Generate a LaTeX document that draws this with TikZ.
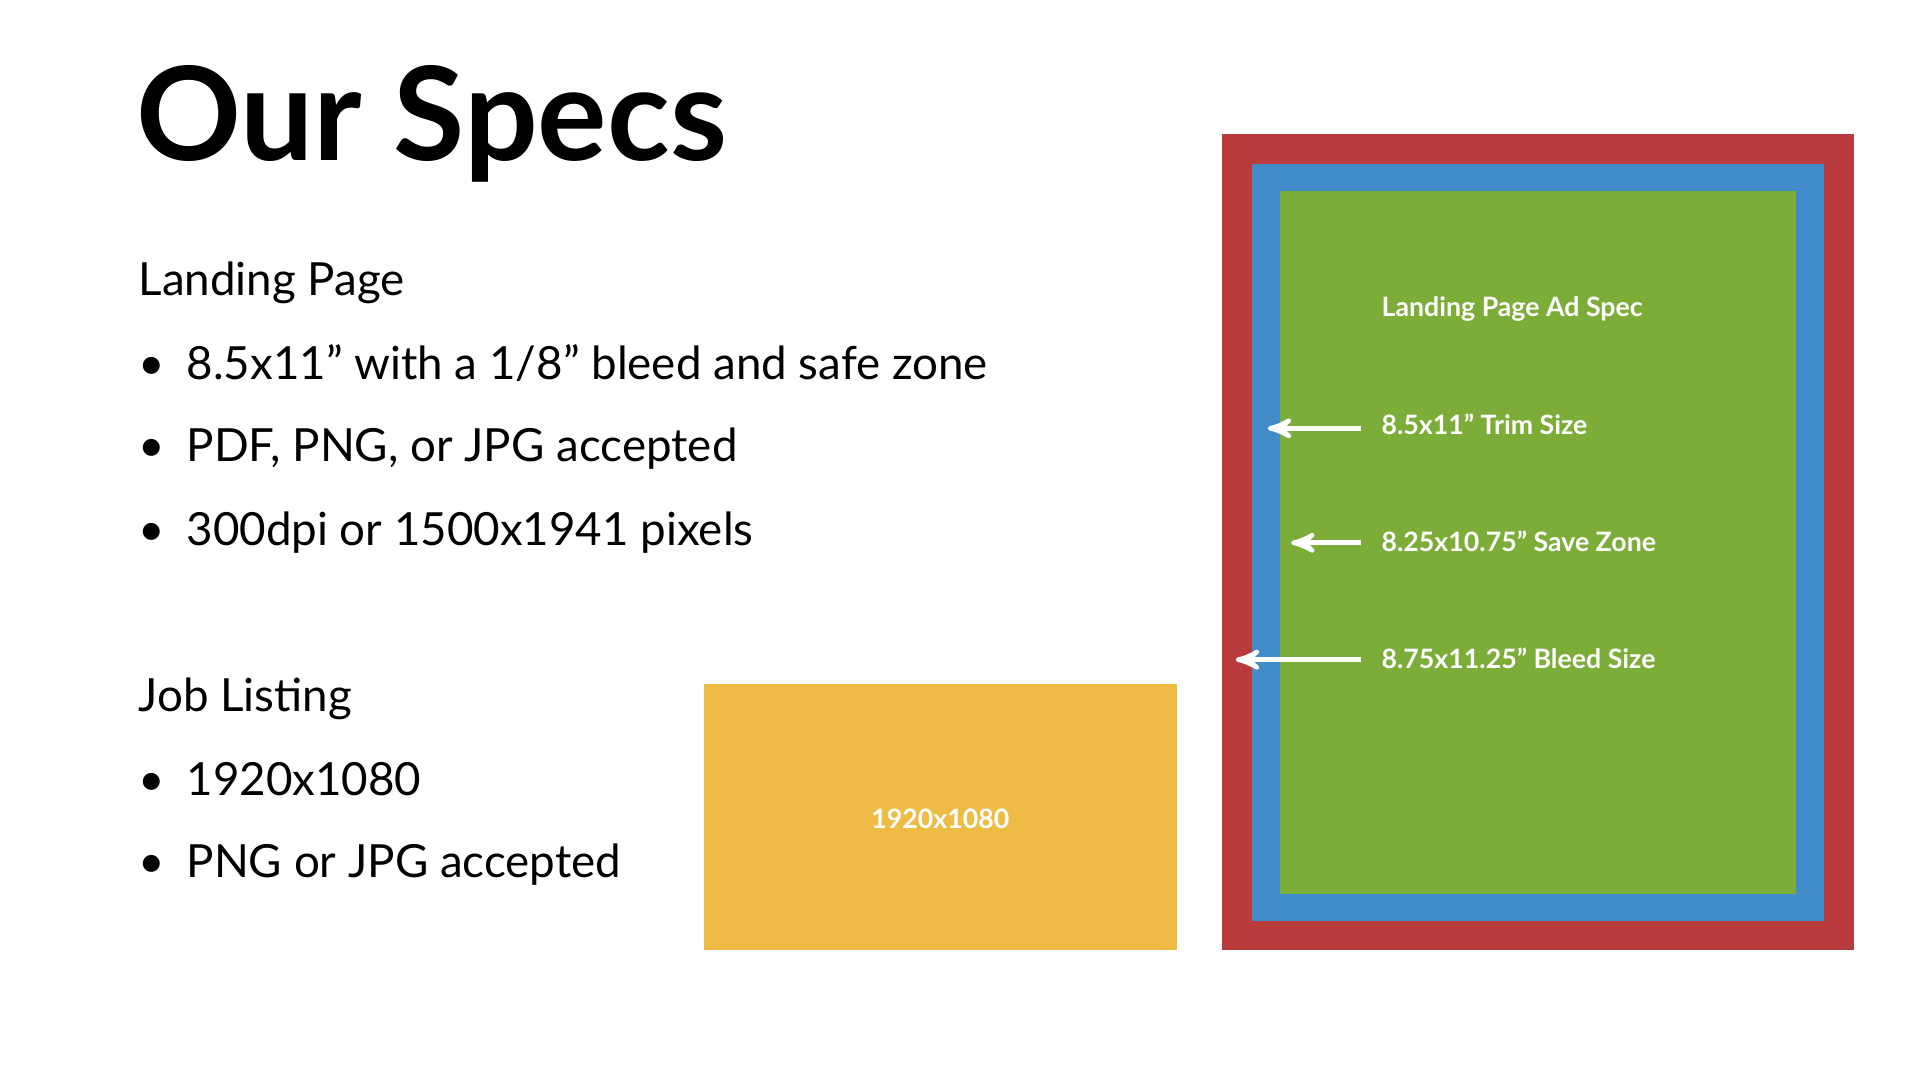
\documentclass[tikz,border=0pt]{standalone}
\usepackage{fontspec}
\setmainfont{Lato}
\usetikzlibrary{arrows}
\definecolor{bleedred}{HTML}{B83A3A}
\definecolor{trimblue}{HTML}{418BC9}
\definecolor{safegreen}{HTML}{7BAD38}
\definecolor{jobyellow}{HTML}{EEBB44}
\begin{document}
\begin{tikzpicture}[x=0.12308mm,y=-0.12308mm,
  body/.style={anchor=base west, inner sep=0, font=\fontsize{13}{15}\selectfont},
  lbl/.style={anchor=base west, inner sep=0, text=white, font=\bfseries\fontsize{7.6}{9}\selectfont}]
\useasboundingbox (0,0) rectangle (1560,877.5);
\node[anchor=base west, inner sep=0, font=\fontsize{37}{40}\selectfont\bfseries] (title) at (110,130) {Our Specs};
% landing page
\node[body] (lp) at (112,240) {Landing Page};
\foreach \y/\t [count=\i] in {308/{8.5x11” with a 1/8” bleed and safe zone},375/{PDF, PNG, or JPG accepted},443/{300dpi or 1500x1941 pixels}} {
  \node[body] (b\i) at (112,\y) {•};
  \node[body] (t\i) at (151,\y) {\t};
}
% job listing
\node[body] (jl) at (112,578) {Job Listing};
\foreach \y/\t [count=\i from 4] in {646/{1920x1080},713/{PNG or JPG accepted}} {
  \node[body] (b\i) at (112,\y) {•};
  \node[body] (t\i) at (151,\y) {\t};
}
\fill[jobyellow] (572,556) rectangle (956,772);
\node[lbl, anchor=center] (job) at (764,665) {1920x1080};
% ad spec
\fill[bleedred] (993,109) rectangle (1506,772);
\fill[trimblue] (1017,133) rectangle (1482,748);
\fill[safegreen] (1040,155) rectangle (1459,726);
\node[lbl] (spec) at (1122,257) {Landing Page Ad Spec};
\node[lbl] (trim) at (1122,353) {8.5x11” Trim Size};
\node[lbl] (safe) at (1122,448) {8.25x10.75” Save Zone};
\node[lbl] (bleed) at (1122,543) {8.75x11.25” Bleed Size};
\coordinate (trimend) at (1030,348);
\coordinate (safeend) at (1049,441);
\coordinate (bleedend) at (1004,536);
\foreach \n in {trim,safe,bleed}
  \draw[white, line width=1.3pt, ->, >=stealth'] (\n.west |- \n end) ++(-16,0) -- (\n end);
\end{tikzpicture}
\end{document}
